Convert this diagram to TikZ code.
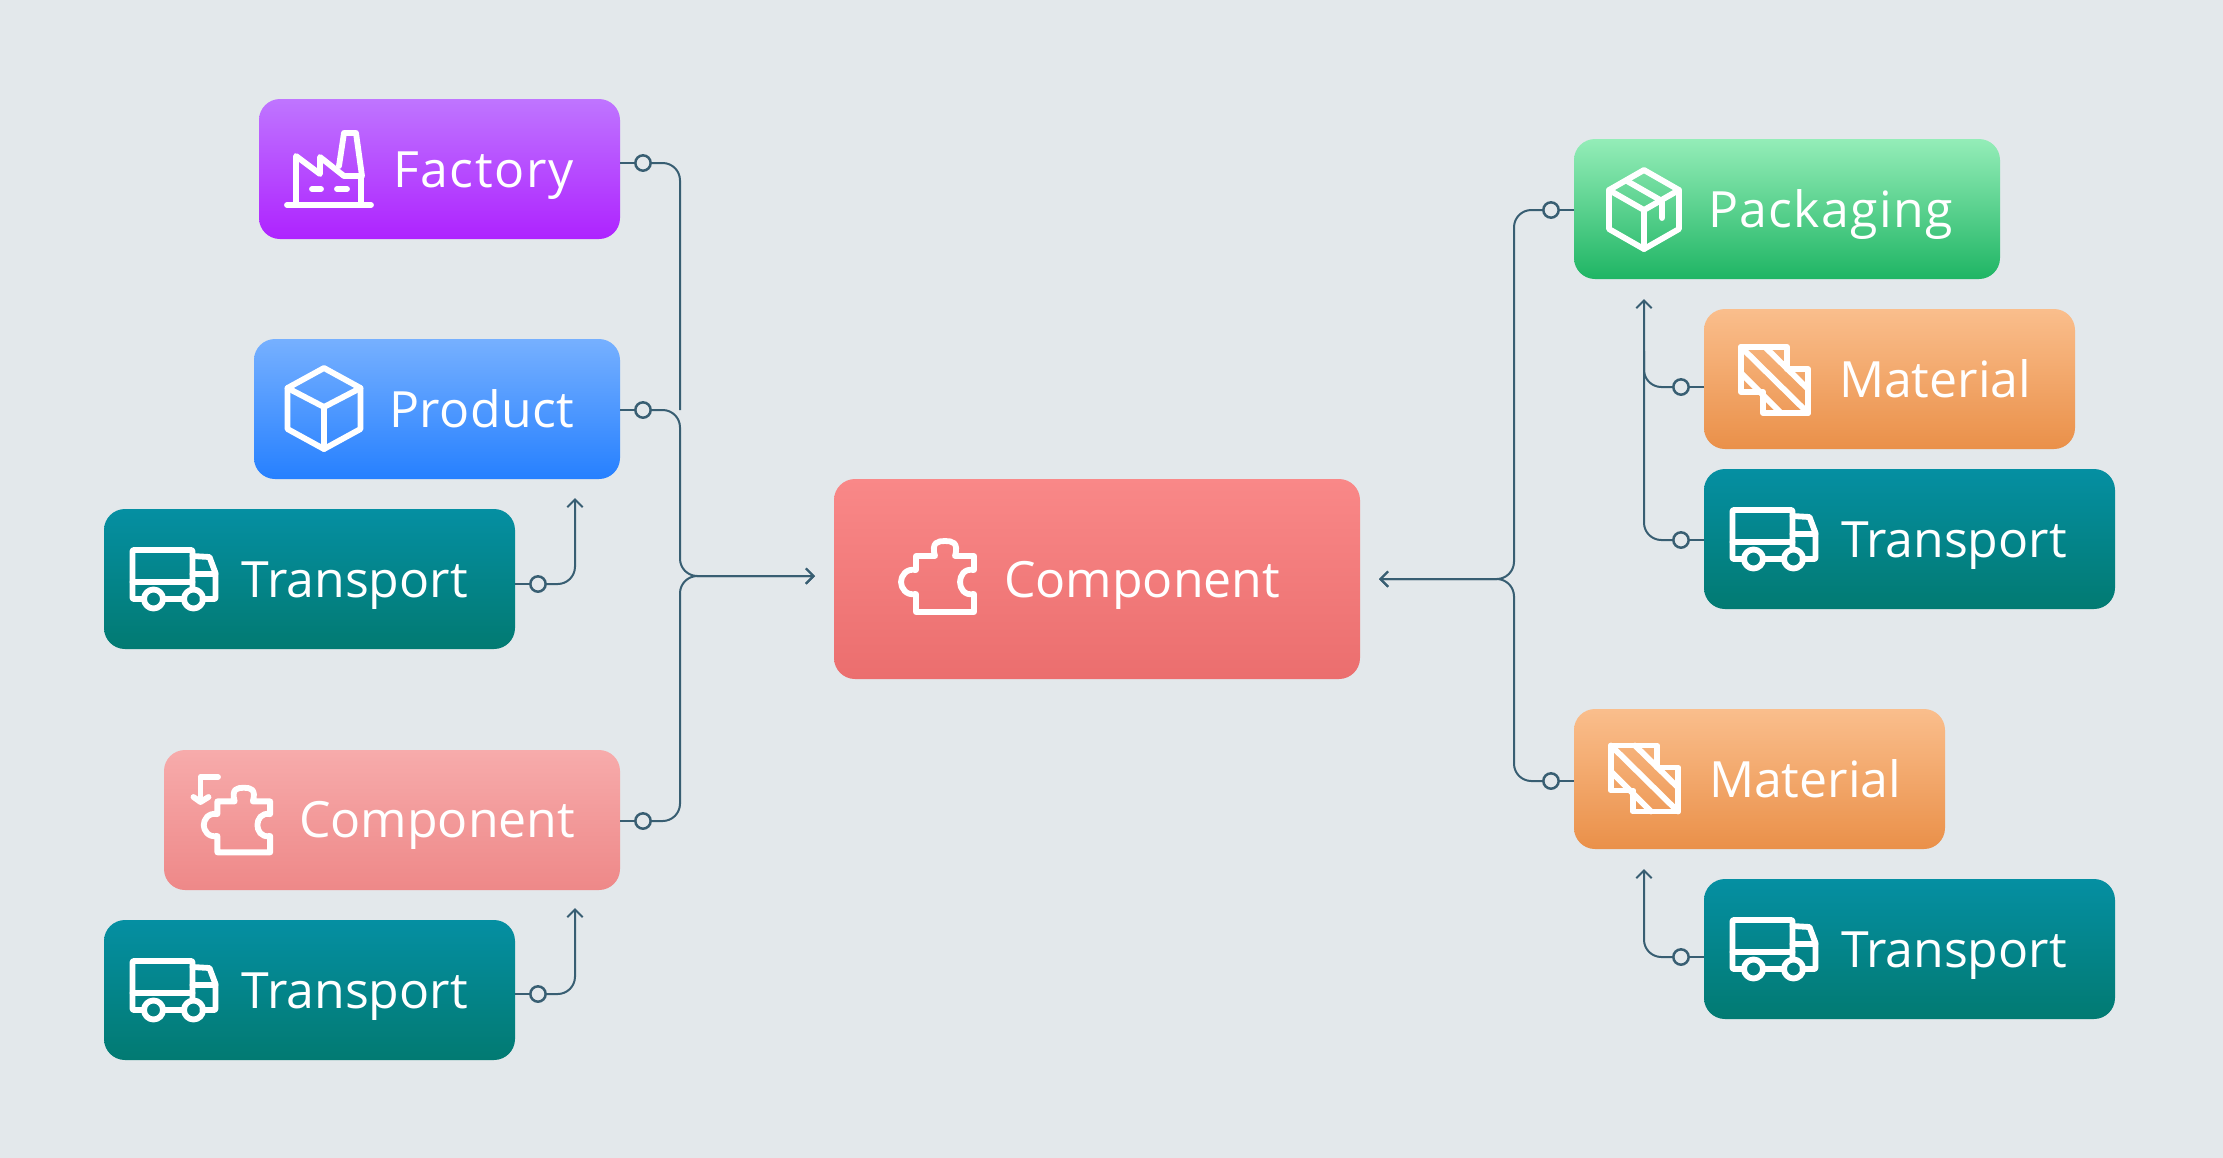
\documentclass[tikz,border=0pt]{standalone}
\usepackage{fontspec}
\setmainfont{Open Sans}
\usetikzlibrary{arrows.meta}
\definecolor{bgc}{HTML}{E3E8EB}
\definecolor{linec}{HTML}{385E72}
\definecolor{facT}{HTML}{BF75FF}\definecolor{facB}{HTML}{AE23FF}
\definecolor{proT}{HTML}{76B0FF}\definecolor{proB}{HTML}{2680FF}
\definecolor{traT}{HTML}{058FA2}\definecolor{traB}{HTML}{027A72}
\definecolor{colT}{HTML}{F7ABAB}\definecolor{colB}{HTML}{EE8888}
\definecolor{cocT}{HTML}{F98888}\definecolor{cocB}{HTML}{EB6E6E}
\definecolor{pacT}{HTML}{94EDB8}\definecolor{pacB}{HTML}{1FB564}
\definecolor{matT}{HTML}{FABE8C}\definecolor{matB}{HTML}{EA9049}
\tikzset{
  boxn/.style n args={4}{inner sep=0,outer sep=0,anchor=north west,rounded corners=6.3pt,
    minimum width=#1*0.3pt,minimum height=#2*0.3pt,top color=#3,bottom color=#4},
  lbl/.style={anchor=base west,inner sep=0,outer sep=0,text=white,font=\fontsize{15}{18}\selectfont},
  dot/.style={circle,draw=linec,fill=bgc,line width=.75pt,minimum size=4.6pt,inner sep=0,outer sep=0},
  conn/.style={draw=linec,line width=.6pt,rounded corners=5.2pt},
  tipped/.style={conn,-{Straight Barb[length=2.3pt,width=4.6pt,line width=.6pt]}},
  icon/.style={draw=white,line width=1.75pt,line join=round,line cap=round},
}
\newcommand\truckicon[1]{\begin{scope}[shift={#1}]
  \draw[icon] (11,49) -- (1,49) -- (0,48) -- (0,1) -- (1,0) -- (59,0) -- (60,1) -- (60,39);
  \draw[icon] (31,49) -- (51,49);
  \draw[icon] (70,49) -- (82,49) -- (83,48) -- (83,23) -- (77,7) -- (60,6);
  \draw[icon] (0,32) -- (60,32);
  \draw[icon] (60,24) -- (83,24);
  \draw[icon] (21,49) circle[radius=9.5*0.3pt];
  \draw[icon] (61,49) circle[radius=9.5*0.3pt];
\end{scope}}
\newcommand\puzzleicon[2]{\begin{scope}[shift={#1},scale=#2]
  \draw[icon] (18,18) -- (37,18) .. controls (33,4) and (40,3) .. (47,3) .. controls (54,3) and (61,4) .. (57,18) -- (76,18) -- (76,32)
    .. controls (66,30) and (62,38) .. (62,44) .. controls (62,50) and (66,58) .. (76,56) -- (76,74) -- (18,74) -- (18,56)
    .. controls (8,58) and (3,50) .. (3,44) .. controls (3,38) and (8,30) .. (18,32) -- cycle;
\end{scope}}
\newcommand\materialicon[1]{\begin{scope}[shift={#1}]
  \draw[icon] (0,0) -- (46,0) -- (46,22) -- (67,22) -- (67,66) -- (22,66) -- (22,45) -- (0,45) -- cycle;
  \draw[icon] (0,0) -- (67,66);
  \draw[icon] (24,0) -- (67,42);
  \draw[icon] (0,26) -- (40,66);
\end{scope}}
\begin{document}
\begin{tikzpicture}[x=0.3pt,y=-0.3pt]
\useasboundingbox (0,-1) rectangle (2223,1156);
\fill[bgc] (-3,-4) rectangle (2226,1160);
% boxes
\node[boxn={361}{140}{facT}{facB}] (factory) at (259,98) {};
\node[boxn={366}{140}{proT}{proB}] (product) at (254,338) {};
\node[boxn={411}{140}{traT}{traB}] (transportA) at (104,508) {};
\node[boxn={456}{140}{colT}{colB}] (componentL) at (164,749) {};
\node[boxn={411}{140}{traT}{traB}] (transportB) at (104,919) {};
\node[boxn={526}{200}{cocT}{cocB}] (componentC) at (834,478) {};
\node[boxn={426}{140}{pacT}{pacB}] (packaging) at (1574,138) {};
\node[boxn={371}{140}{matT}{matB}] (materialA) at (1704,308) {};
\node[boxn={411}{140}{traT}{traB}] (transportC) at (1704,468) {};
\node[boxn={371}{140}{matT}{matB}] (materialB) at (1574,708) {};
\node[boxn={411}{140}{traT}{traB}] (transportD) at (1704,878) {};
% labels
\node[lbl] (tfactory) at (393,186) {\addfontfeature{LetterSpace=3.3}Factory};
\node[lbl] (tproduct) at (389,426) {\addfontfeature{LetterSpace=1}Product};
\node[lbl] (ttransportA) at (242,596) {Transport};
\node[lbl] (tcomponentL) at (299,836) {Component};
\node[lbl] (ttransportB) at (242,1007) {Transport};
\node[lbl] (tcomponentC) at (1004,596) {Component};
\node[lbl] (tpackaging) at (1708,226) {\addfontfeature{LetterSpace=2.8}Packaging};
\node[lbl] (tmaterialA) at (1839,396) {Material};
\node[lbl] (ttransportC) at (1841,556) {Transport};
\node[lbl] (tmaterialB) at (1709,796) {Material};
\node[lbl] (ttransportD) at (1841,966) {Transport};
% factory icon
\draw[icon] (287,204) -- (371,204);
\draw[icon] (296,204) -- (296,155) -- (320,173) -- (320,156) -- (344,175) -- (361,175) -- (361,204);
\draw[icon] (339,165) -- (344,132) -- (356,132) -- (362,175);
\draw[icon] (312,188) -- (321,188);
\draw[icon] (337,188) -- (347,188);
% product icon
\draw[icon] (324,367) -- (360.5,387) -- (360.5,428) -- (324,448) -- (287.5,428) -- (287.5,387) -- cycle;
\draw[icon] (287.5,387) -- (324,406) -- (360.5,387);
\draw[icon] (324,406) -- (324,448);
% packaging icon
\draw[icon] (1644,169) -- (1679,189) -- (1679,228) -- (1644,248) -- (1609,228) -- (1609,189) -- cycle;
\draw[icon] (1609,189) -- (1644,209) -- (1679,189);
\draw[icon] (1644,209) -- (1644,248);
\draw[icon] (1627,180) -- (1662,200) -- (1662,217);
% other icons
\truckicon{(132.5,549)}
\truckicon{(132.5,960)}
\truckicon{(1732.5,509)}
\truckicon{(1732.5,919)}
\puzzleicon{(898,537)}{1}
\puzzleicon{(201,784)}{0.91}
\draw[icon] (218,776) -- (200.5,776) -- (200.5,801);
\draw[icon] (193.5,796) -- (200.5,801) -- (208.5,796);
\materialicon{(1741,346)}
\materialicon{(1611,744.5)}
% connector points
\node[dot] (d1) at (643,162) {};
\node[dot] (d2) at (643,409) {};
\node[dot] (d3) at (643,820) {};
\node[dot] (d4) at (538,583) {};
\node[dot] (d5) at (538,993) {};
\node[dot] (d6) at (1551,209) {};
\node[dot] (d7) at (1551,780) {};
\node[dot] (d8) at (1681,386) {};
\node[dot] (d9) at (1681,539) {};
\node[dot] (d10) at (1681,956) {};
\coordinate (tipL) at (815,575);
\coordinate (tipR) at (1379,578);
\coordinate (tipA) at (575,497);
\coordinate (tipB) at (575,907);
\coordinate (tipC) at (1644,298);
\coordinate (tipD) at (1644,868);
\coordinate (endF) at (680,409);
\coordinate (joinM) at (1644,350);
% stubs
\draw[conn] (factory.east |- d1) -- (d1);
\draw[conn] (product.east |- d2) -- (d2);
\draw[conn] (componentL.east |- d3) -- (d3);
\draw[conn] (transportA.east |- d4) -- (d4);
\draw[conn] (transportB.east |- d5) -- (d5);
\draw[conn] (packaging.west |- d6) -- (d6);
\draw[conn] (materialB.west |- d7) -- (d7);
\draw[conn] (materialA.west |- d8) -- (d8);
\draw[conn] (transportC.west |- d9) -- (d9);
\draw[conn] (transportD.west |- d10) -- (d10);
% connectors
\draw[conn] (d1) -- (endF |- d1) -- (endF);
\draw[tipped] (d2) -- (endF) -- (endF |- tipL) -- (tipL);
\draw[tipped] (d3) -- (endF |- d3) -- (endF |- tipL) -- (tipL);
\draw[tipped] (d4) -- (tipA |- d4) -- (tipA);
\draw[tipped] (d5) -- (tipB |- d5) -- (tipB);
\draw[tipped] (d6) -- (1514,209) -- (1514,578) -- (tipR);
\draw[tipped] (d7) -- (1514,780) -- (1514,578) -- (tipR);
\draw[tipped] (d9) -- (tipC |- d9) -- (tipC);
\draw[conn] (d8) -- (joinM |- d8) -- (joinM);
\draw[tipped] (d10) -- (tipD |- d10) -- (tipD);
\end{tikzpicture}
\end{document}
